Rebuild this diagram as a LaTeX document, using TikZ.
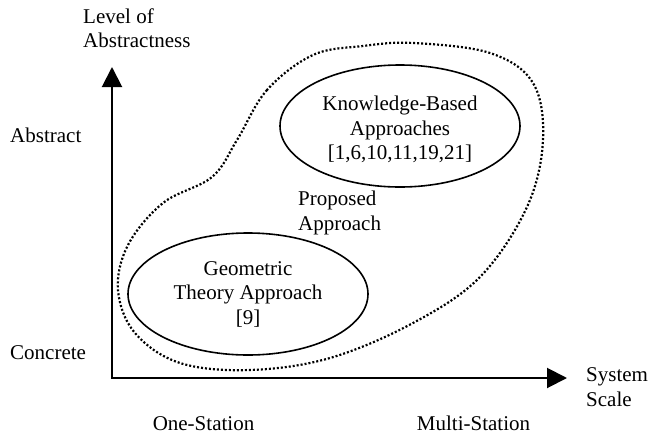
\documentclass[tikz,border=0pt]{standalone}
\usepackage{fontspec}
\setmainfont{Liberation Serif}
\usetikzlibrary{arrows.meta,shapes.geometric}
\begin{document}
\begin{tikzpicture}[x=1pt,y=-1pt,
  every node/.style={font=\fontsize{21}{24.5}\selectfont, inner sep=0pt},
  lbl/.style={anchor=base west, align=left},
  clbl/.style={anchor=base},
  approach/.style={ellipse, draw, line width=1.6pt, minimum width=240pt, minimum height=122pt, align=center},
  axes/.style={line width=2pt, {Triangle[width=20pt,length=20pt]}-{Triangle[width=20pt,length=20pt]}},
  region/.style={line width=2.2pt, dash pattern=on 2pt off 2pt}]
\useasboundingbox (0,0) rectangle (662,437);
% axes
\coordinate (O) at (112,378);
\coordinate (ytip) at (112,67);
\coordinate (xtip) at (567,378);
\draw[axes] (ytip) -- (O) -- (xtip);
% region of proposed approach
\draw[region] plot[smooth cycle, tension=0.6] coordinates {
  (313,55) (267,90) (237,140) (212,177) (163,203) (128,245) (118,290)
  (135,333) (180,363) (250,370) (330,358) (413,323) (480,277)
  (527,207) (543,140) (533,83) (490,53) (413,43) (363,46)};
% approaches
\node[approach] (kb) at (400,126) {\rule{0pt}{22pt}Knowledge-Based\\Approaches\\{[1,6,10,11,19,21]}};
\node[approach] (geo) at (248,294) {Geometric\\Theory Approach\\{[9]}};
\node[lbl] (prop) at (298,230) {Proposed\\Approach};
% axis labels
\node[lbl] (ylab) at (83,47.5) {Level of\\Abstractness};
\node[lbl] (abs) at (10,142.5) {Abstract};
\node[lbl] (con) at (10,359) {Concrete};
\node[lbl] (xlab) at (586,406) {System\\Scale};
\node[clbl] (one) at (203.5,430) {One-Station};
\node[clbl] (multi) at (473.5,430) {Multi-Station};
\end{tikzpicture}
\end{document}
